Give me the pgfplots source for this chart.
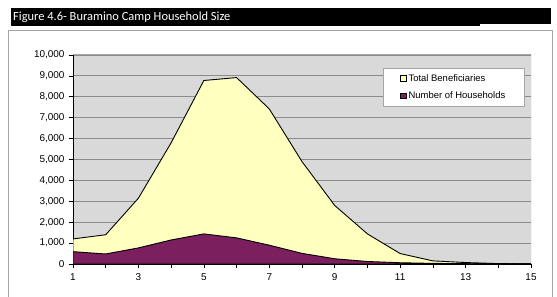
\documentclass[border=0pt]{standalone}
\usepackage{fontspec}
\setmainfont{Liberation Sans}
\newfontfamily\carlito{Carlito}
\usepackage{pgfplots}
\pgfplotsset{compat=1.18}
\definecolor{bgray}{HTML}{D9D9D9}
\definecolor{tb}{HTML}{FFFFC0}
\definecolor{hh}{HTML}{7B1F5E}
\definecolor{frame}{HTML}{A6A6A6}
\definecolor{gridc}{HTML}{8C8C8C}
\begin{document}
\begin{tikzpicture}
\useasboundingbox (0bp,0bp) rectangle (557bp,297bp);
\fill[white] (0bp,0bp) rectangle (557bp,297bp);
\draw[frame, line width=1bp] (8.5bp,-5bp) rectangle (552.5bp,266bp);
\fill[black] (11bp,271bp) rectangle (480bp,289bp);
\fill[black] (480bp,273bp) rectangle (551bp,289bp);
\node[anchor=west, text=white, inner sep=0pt, font=\carlito\fontsize{12.5}{14}\selectfont] at (13bp,280bp) {Figure 4.6- Buramino Camp Household Size};
\begin{axis}[
  at={(73bp,33bp)}, anchor=south west,
  scale only axis, width=458bp, height=209bp,
  xmin=1, xmax=15, ymin=0, ymax=10000,
  xtick={1,...,15},
  xticklabels={1,,3,,5,,7,,9,,11,,13,,15},
  ytick={0,1000,...,10000},
  scaled y ticks=false,
  /pgf/number format/.cd, 1000 sep={,}, assume math mode=true, /pgfplots/.cd,
  tick label style={font=\fontsize{10}{12}\selectfont},
  axis background/.style={fill=bgray},
  ymajorgrids,
  grid style={gridc, line width=0.8bp},
  axis x line*=bottom, axis y line*=left,
  x axis line style={black, line width=1.6bp},
  y axis line style={black, line width=1bp},
  tick align=outside, major tick length=4bp,
  tick style={black, line width=0.6bp},
  xticklabel style={yshift=-2bp},
  yticklabel style={xshift=-1bp},
  legend style={at={(0.677,0.938)}, anchor=north west, draw=frame, fill=white,
    font=\fontsize{9.5}{11}\selectfont, row sep=5bp, inner xsep=17bp, inner ysep=4bp,
    /tikz/every even column/.append style={column sep=0bp}},
  legend cell align=left,
  legend image code/.code={\draw[#1, draw=black, line width=0.7bp] (0bp,-2.8bp) rectangle (5.6bp,2.8bp);},
]
\addplot[fill=tb, draw=black, line width=0.9bp] coordinates {
 (1,1200) (2,1400) (3,3150) (4,5800) (5,8780) (6,8920) (7,7420) (8,4900)
 (9,2800) (10,1440) (11,500) (12,150) (13,70) (14,20) (15,0)} \closedcycle;
\addlegendentry{Total Beneficiaries}
\addplot[fill=hh, draw=black, line width=0.9bp] coordinates {
 (1,590) (2,480) (3,770) (4,1150) (5,1440) (6,1250) (7,900) (8,510)
 (9,250) (10,120) (11,60) (12,30) (13,15) (14,5) (15,0)} \closedcycle;
\addlegendentry{Number of Households}
\draw[frame, line width=1bp] (rel axis cs:0,1) -- (rel axis cs:1,1) -- (rel axis cs:1,0);
\end{axis}
\end{tikzpicture}
\end{document}
